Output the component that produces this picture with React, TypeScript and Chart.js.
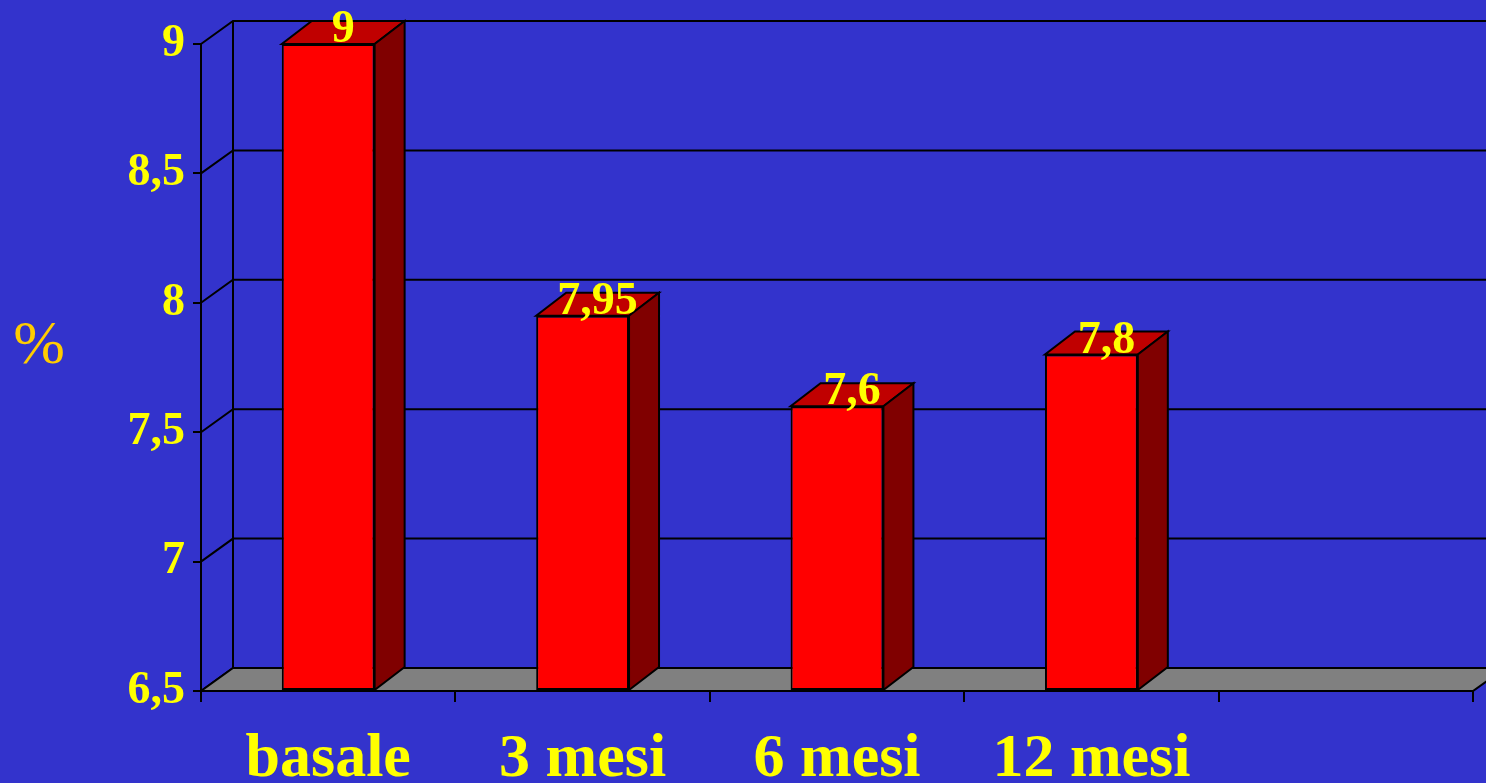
import React, { useEffect, useRef } from "react";
import { Chart, registerables } from "chart.js";

Chart.register(...registerables);

// Categories (the last slot is left empty, as in the original slide layout)
const categories = ["basale", "3 mesi", "6 mesi", "12 mesi", ""];
// Percentage values per time point
const values: (number | null)[] = [9, 7.95, 7.6, 7.8, null];
// Value axis range and step
const yMin = 6.5;
const yMax = 9;
const yStep = 0.5;

const BG = "#3333CC";
const YELLOW = "#FFFF00";
const UNIT_COLOR = "#FFCC00";
const FONT = "'Liberation Serif', 'Times New Roman', serif";

// depth of the 3D wall / floor and of the bars
const WALL_DX = 32;
const WALL_DY = -23;
const BAR_DX = 30;
const BAR_DY = -23;

const fmt = (v: number) => String(v).replace(".", ",");

const pseudo3d = {
  id: "pseudo3d",
  beforeDatasetsDraw(chart: any) {
    const { ctx, chartArea, scales, width } = chart;
    const y = scales.y;
    const { left, right, bottom, top } = chartArea;
    ctx.save();
    ctx.strokeStyle = "#000";
    ctx.lineWidth = 2;
    // back wall vertical edge
    ctx.beginPath();
    ctx.moveTo(left + WALL_DX, top + WALL_DY);
    ctx.lineTo(left + WALL_DX, bottom + WALL_DY);
    ctx.stroke();
    // gridlines on side and back wall
    y.ticks.forEach((t: any) => {
      const py = y.getPixelForValue(t.value);
      ctx.beginPath();
      ctx.moveTo(left, py);
      ctx.lineTo(left + WALL_DX, py + WALL_DY);
      ctx.lineTo(width, py + WALL_DY);
      ctx.stroke();
    });
    // floor
    ctx.beginPath();
    ctx.moveTo(left, bottom);
    ctx.lineTo(right, bottom);
    ctx.lineTo(right + WALL_DX, bottom + WALL_DY);
    ctx.lineTo(left + WALL_DX, bottom + WALL_DY);
    ctx.closePath();
    ctx.fillStyle = "#808080";
    ctx.fill();
    ctx.stroke();
    ctx.restore();
  },
  afterDatasetsDraw(chart: any) {
    const { ctx } = chart;
    const meta = chart.getDatasetMeta(0);
    ctx.save();
    ctx.strokeStyle = "#000";
    ctx.lineWidth = 2;
    ctx.lineJoin = "miter";
    meta.data.forEach((bar: any, i: number) => {
      const v = values[i];
      if (v === null || v === undefined) return;
      const { x, y, base, width } = bar.getProps(["x", "y", "base", "width"], true);
      const l = x - width / 2;
      const r = x + width / 2;
      // top face
      ctx.beginPath();
      ctx.moveTo(l, y);
      ctx.lineTo(r, y);
      ctx.lineTo(r + BAR_DX, y + BAR_DY);
      ctx.lineTo(l + BAR_DX, y + BAR_DY);
      ctx.closePath();
      ctx.fillStyle = "#C00000";
      ctx.fill();
      ctx.stroke();
      // side face
      ctx.beginPath();
      ctx.moveTo(r, y);
      ctx.lineTo(r + BAR_DX, y + BAR_DY);
      ctx.lineTo(r + BAR_DX, base + BAR_DY);
      ctx.lineTo(r, base);
      ctx.closePath();
      ctx.fillStyle = "#800000";
      ctx.fill();
      ctx.stroke();
      // value label
      ctx.fillStyle = YELLOW;
      ctx.font = `bold 46px ${FONT}`;
      ctx.textAlign = "center";
      ctx.textBaseline = "alphabetic";
      ctx.fillText(fmt(v), x + BAR_DX / 2, y - 2);
    });
    // unit label
    ctx.fillStyle = UNIT_COLOR;
    ctx.font = `62px ${FONT}`;
    ctx.textAlign = "center";
    ctx.textBaseline = "middle";
    ctx.fillText("%", 39, 347);
    ctx.restore();
  },
};

export default function App() {
  const ref = useRef<HTMLCanvasElement>(null);

  useEffect(() => {
    document.body.style.margin = "0";
    document.body.style.background = BG;
    const canvas = ref.current;
    if (!canvas) return;
    const chart = new Chart(canvas, {
      type: "bar",
      data: {
        labels: categories,
        datasets: [
          {
            data: values,
            base: yMin,
            backgroundColor: "#FF0000",
            borderColor: "#000000",
            borderWidth: 2,
            borderSkipped: false,
            barPercentage: 0.365,
            categoryPercentage: 1,
            clip: false,
          } as any,
        ],
      },
      options: {
        animation: false,
        responsive: false,
        devicePixelRatio: 1,
        layout: { padding: { top: 44, right: 13, left: 0, bottom: 0 } },
        plugins: {
          legend: { display: false },
          tooltip: { enabled: false },
          title: { display: false },
        },
        scales: {
          x: {
            offset: true,
            afterFit: (s: any) => {
              s.height = 92;
            },
            grid: {
              offset: true,
              drawOnChartArea: false,
              drawTicks: true,
              tickLength: 11,
              color: "#000",
              lineWidth: 2,
            },
            border: { display: true, color: "#000", width: 2 },
            ticks: {
              color: YELLOW,
              font: { family: FONT, size: 62, weight: "bold" },
              padding: 21,
              maxRotation: 0,
              autoSkip: false,
            },
          },
          y: {
            min: yMin,
            max: yMax,
            afterFit: (s: any) => {
              s.width = 201;
            },
            grid: {
              drawOnChartArea: false,
              drawTicks: true,
              tickLength: 8,
              color: "#000",
              lineWidth: 2,
            },
            border: { display: true, color: "#000", width: 2 },
            ticks: {
              stepSize: yStep,
              color: YELLOW,
              font: { family: FONT, size: 46, weight: "bold" },
              padding: 8,
              callback: (v: any) => fmt(Number(v)),
            },
          },
        },
      },
      plugins: [pseudo3d],
    });
    return () => chart.destroy();
  }, []);

  return (
    <div
      style={{
        position: "absolute",
        left: 0,
        top: 0,
        width: 1486,
        height: 783,
        background: BG,
        overflow: "hidden",
      }}
    >
      <canvas ref={ref} width={1486} height={783} style={{ display: "block" }} />
    </div>
  );
}
